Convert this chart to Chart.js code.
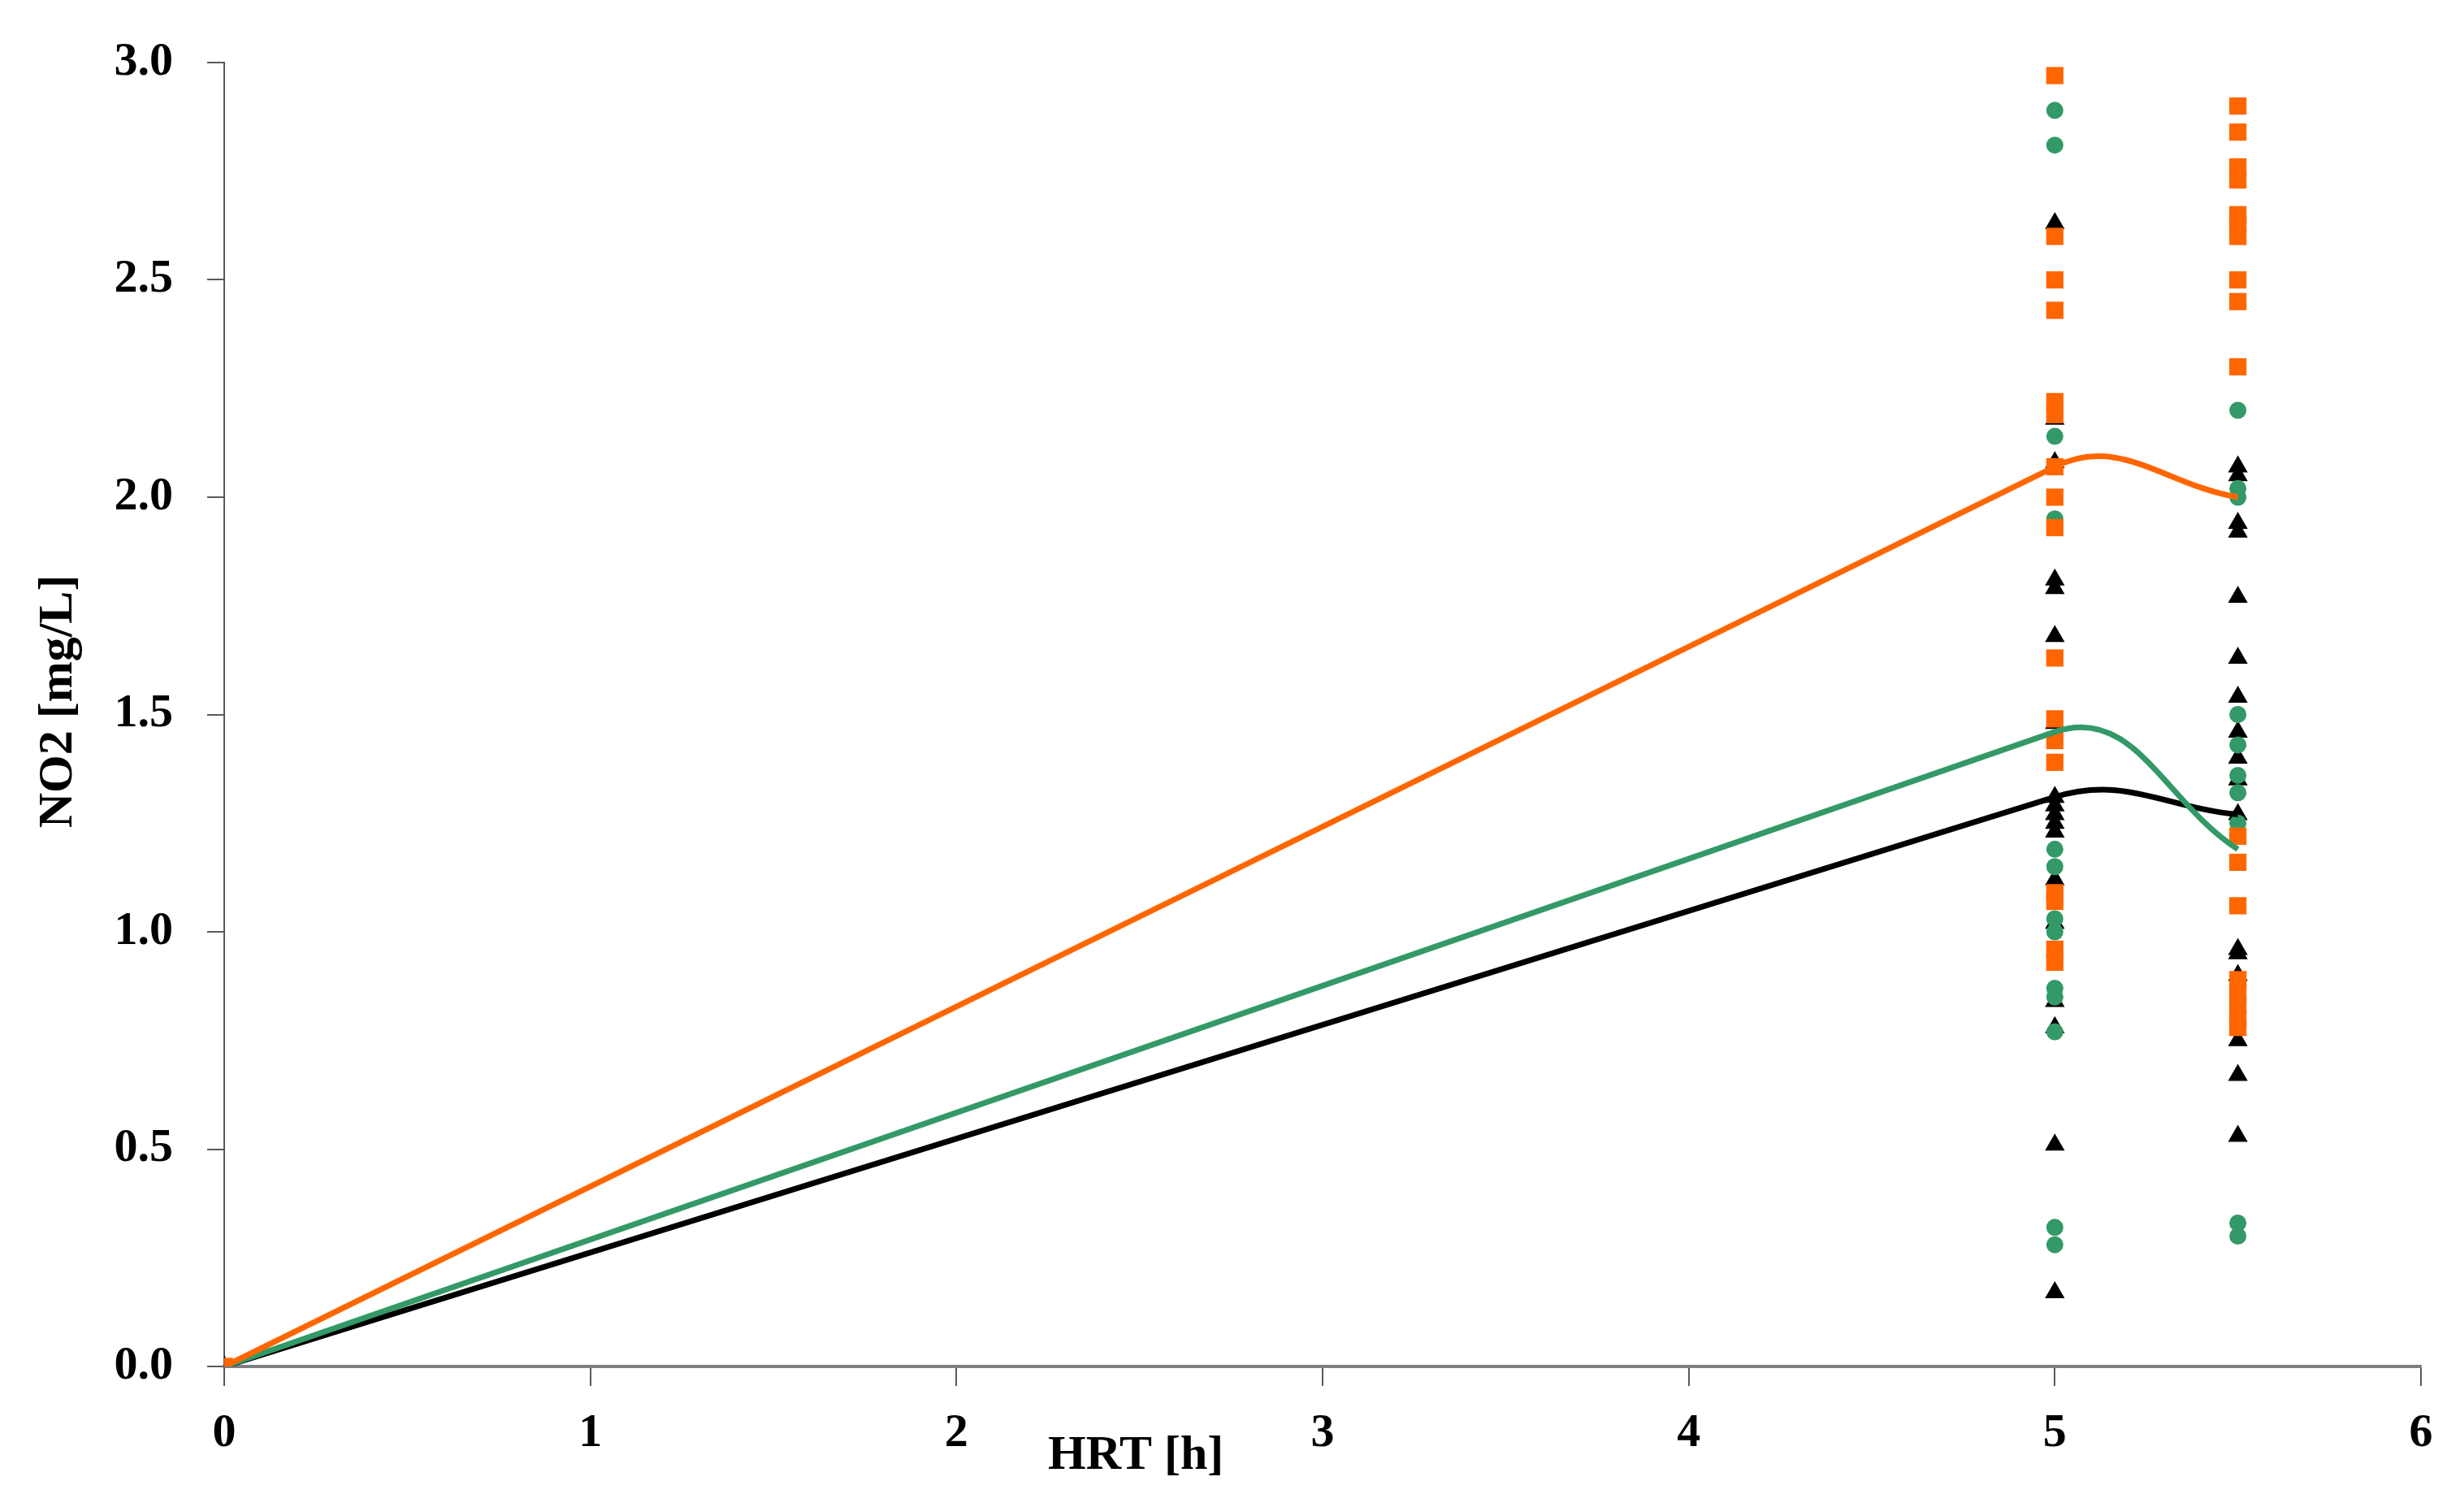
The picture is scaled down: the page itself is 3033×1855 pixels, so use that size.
<!DOCTYPE html>
<html>
<head>
<meta charset="utf-8">
<script src="https://cdn.jsdelivr.net/npm/chart.js@4.4.1/dist/chart.umd.min.js"></script>
<style>
  html, body { margin: 0; padding: 0; background: #ffffff; }
  #wrap { width: 3033px; height: 1855px; position: relative; }
</style>
</head>
<body>
<div id="wrap"><canvas id="c"></canvas></div>
<script>
// ---- Data ----
const hrtLevels = [0, 5, 5.5];               // HRT [h] at which samples were taken
const orangeMeanLine = [0, 2.07, 2.00];      // NO2 trend line (orange)
const greenMeanLine  = [0, 1.46, 1.19];      // NO2 trend line (green)
const blackMeanLine  = [0, 1.31, 1.27];      // NO2 trend line (black)

const orangeAt0  = [0];
const orangeAt5  = [2.97, 2.60, 2.50, 2.43, 2.22, 2.19, 2.07, 2.00, 1.93, 1.63, 1.49, 1.44, 1.39, 1.09, 1.07, 0.96, 0.93];
const orangeAt55 = [2.90, 2.84, 2.76, 2.73, 2.65, 2.63, 2.60, 2.50, 2.45, 2.30, 1.22, 1.16, 1.06, 0.89, 0.86, 0.83, 0.80, 0.78];

const greenAt0  = [0];
const greenAt5  = [2.89, 2.81, 2.14, 1.95, 1.19, 1.15, 1.03, 1.00, 0.87, 0.85, 0.77, 0.32, 0.28];
const greenAt55 = [2.20, 2.02, 2.00, 1.50, 1.43, 1.36, 1.32, 1.25, 0.84, 0.33, 0.30];

const blackAt0  = [0];
const blackAt5  = [2.63, 2.18, 2.08, 1.81, 1.79, 1.68, 1.48, 1.31, 1.29, 1.27, 1.25, 1.23, 1.12, 1.02, 0.84, 0.78, 0.51, 0.17];
const blackAt55 = [2.07, 2.05, 1.94, 1.92, 1.77, 1.63, 1.54, 1.46, 1.40, 1.35, 1.27, 0.96, 0.95, 0.90, 0.75, 0.67, 0.53];

const xTickValues = [0, 1, 2, 3, 4, 5, 6];
const yTickValues = [0.0, 0.5, 1.0, 1.5, 2.0, 2.5, 3.0];
const xTitle = 'HRT [h]';
const yTitle = 'NO2 [mg/L]';

// ---- Build point lists ----
function pts(xs, ys) { return ys.map(v => ({ x: xs, y: v })); }
function column(at0, at5, at55) {
  return [].concat(pts(hrtLevels[0], at0), pts(hrtLevels[1], at5), pts(hrtLevels[2], at55));
}
function linePts(vals) { return hrtLevels.map((h, i) => ({ x: h, y: vals[i] })); }

const ORANGE = '#FF6600';
const GREEN = '#339966';
const BLACK = '#000000';
const SERIF = '"Liberation Serif", "Times New Roman", serif';

const titlePlugin = {
  id: 'axisTitles',
  afterDraw(chart) {
    const ctx = chart.ctx;
    const xs = chart.scales.x, ys = chart.scales.y;
    ctx.save();
    ctx.fillStyle = '#000';
    ctx.font = 'bold 60px ' + SERIF;
    ctx.textAlign = 'center';
    ctx.textBaseline = 'middle';
    ctx.fillText(xTitle, xs.getPixelForValue(2.49), chart.chartArea.bottom + 110);
    ctx.translate(72, ys.getPixelForValue(1.53));
    ctx.rotate(-Math.PI / 2);
    ctx.fillText(yTitle, 0, 0);
    ctx.restore();
  }
};

// Smooth trend lines like the spreadsheet: the long first segment stays straight,
// the tangent at the middle sample follows that segment.
const smoothPlugin = {
  id: 'trendSmooth',
  beforeDatasetDraw(chart, args) {
    const meta = args.meta;
    const line = meta.dataset;
    if (!line || !chart.data.datasets[args.index].isTrend) return;
    line.updateControlPoints(chart.chartArea, 'x');
    const p = meta.data;
    if (p.length < 3) return;
    const a = p[0], b = p[1];
    const dx = b.x - a.x, dy = b.y - a.y, d = Math.hypot(dx, dy);
    const ux = dx / d, uy = dy / d;
    const inLen = Math.hypot(b.x - b.cp1x, b.y - b.cp1y);
    const outLen = Math.hypot(b.cp2x - b.x, b.cp2y - b.y);
    b.cp1x = b.x - ux * inLen; b.cp1y = b.y - uy * inLen;
    b.cp2x = b.x + ux * outLen; b.cp2y = b.y + uy * outLen;
    line._path = undefined;
  }
};

new Chart(document.getElementById('c'), {
  type: 'scatter',
  data: {
    datasets: [
      { label: 'orange trend', isTrend: true, data: linePts(orangeMeanLine), showLine: true, borderColor: ORANGE, borderWidth: 7, tension: 0.4, pointRadius: 0, order: 0 },
      { label: 'green trend',  isTrend: true, data: linePts(greenMeanLine),  showLine: true, borderColor: GREEN,  borderWidth: 7, tension: 0.4, pointRadius: 0, order: 0 },
      { label: 'black trend',  isTrend: true, data: linePts(blackMeanLine),  showLine: true, borderColor: BLACK,  borderWidth: 7, tension: 0.4, pointRadius: 0, order: 0 },
      { label: 'orange', data: column(orangeAt0, orangeAt5, orangeAt55), pointStyle: 'rect', pointRadius: 15, pointBackgroundColor: ORANGE, pointBorderColor: ORANGE, pointBorderWidth: 0, order: 1 },
      { label: 'green',  data: column(greenAt0, greenAt5, greenAt55), pointStyle: 'circle', pointRadius: 10.5, pointBackgroundColor: GREEN, pointBorderColor: GREEN, pointBorderWidth: 0, order: 2 },
      { label: 'black',  data: column(blackAt0, blackAt5, blackAt55), pointStyle: 'triangle', pointRadius: 14, pointBackgroundColor: BLACK, pointBorderColor: BLACK, pointBorderWidth: 0, order: 3 }
    ]
  },
  options: {
    responsive: true,
    maintainAspectRatio: false,
    animation: false,
    layout: { padding: { top: 77, right: 53, left: 0, bottom: 0 } },
    plugins: { legend: { display: false }, tooltip: { enabled: false } },
    scales: {
      x: {
        type: 'linear', min: 0, max: 6,
        afterBuildTicks(scale) { scale.ticks = xTickValues.map(v => ({ value: v })); },
        afterFit(scale) { scale.height = 173; },
        ticks: { color: '#000', font: { family: SERIF, size: 58, weight: 'bold' }, padding: 24, callback: v => String(v) },
        grid: { drawOnChartArea: false, drawTicks: true, tickLength: 24, color: '#595959', lineWidth: 2 },
        border: { display: true, color: '#7f7f7f', width: 4 }
      },
      y: {
        type: 'linear', min: 0, max: 3,
        afterBuildTicks(scale) { scale.ticks = yTickValues.map(v => ({ value: v })); },
        afterFit(scale) { scale.width = 276; },
        ticks: { color: '#000', font: { family: SERIF, size: 58, weight: 'bold' }, padding: 42, callback: v => Number(v).toFixed(1) },
        grid: { drawOnChartArea: false, drawTicks: true, tickLength: 21, color: '#595959', lineWidth: 2 },
        border: { display: true, color: '#595959', width: 2 }
      }
    }
  },
  plugins: [titlePlugin, smoothPlugin]
});
</script>
</body>
</html>
